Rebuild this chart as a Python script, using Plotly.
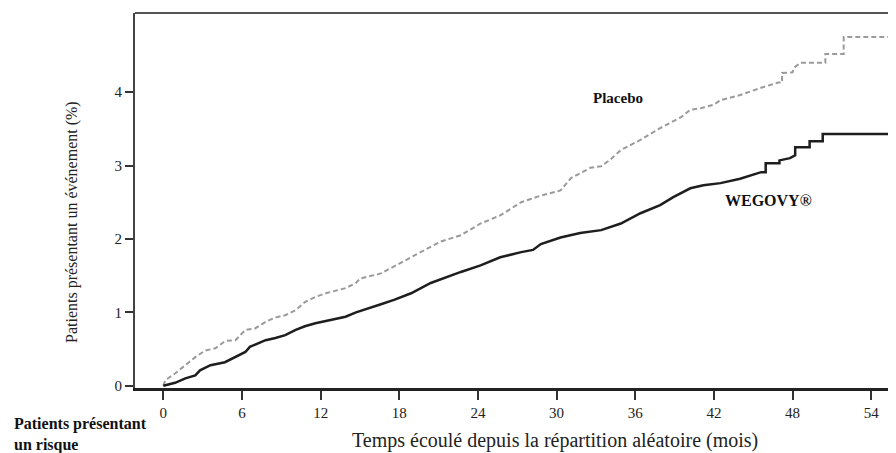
import plotly.graph_objects as go

# Months since randomisation / cumulative % with event
placebo_x = [0, 0.15, 0.92, 1.68, 2.44, 3.2, 3.97, 4.73, 5.5, 6.26, 7.0, 7.8, 8.55, 9.3,
             10.1, 10.8, 11.6, 12.4, 13.1, 13.9, 14.7, 15.0, 16.6, 18.1, 19.6, 21.1, 22.7,
             24.2, 25.7, 27.3, 28.8, 30.3, 31.1, 32.6, 33.4, 34.1, 34.9, 36.4, 37.9, 39.5,
             40.2, 41.0, 42.0, 42.5, 44.0, 45.6, 46.9, 47.2, 47.2, 48.0, 48.1, 48.6, 50.5,
             50.5, 51.9, 51.9, 55.3]
placebo_y = [0, 0.075, 0.17, 0.28, 0.39, 0.48, 0.51, 0.61, 0.62, 0.76, 0.78, 0.87, 0.93, 0.96,
             1.03, 1.14, 1.21, 1.26, 1.29, 1.33, 1.40, 1.46, 1.53, 1.67, 1.81, 1.96, 2.05,
             2.21, 2.32, 2.50, 2.59, 2.66, 2.83, 2.97, 2.99, 3.08, 3.21, 3.35, 3.51, 3.66,
             3.76, 3.78, 3.83, 3.89, 3.96, 4.06, 4.13, 4.13, 4.26, 4.27, 4.33, 4.40, 4.40,
             4.52, 4.52, 4.75, 4.75]

wegovy_x = [0, 0.9, 1.68, 2.44, 2.8, 3.6, 4.7, 5.5, 6.26, 6.6, 7.8, 8.55, 9.3, 10.1, 10.8,
            11.6, 12.4, 13.1, 13.9, 14.7, 15.5, 16.6, 17.6, 18.9, 20.4, 21.9, 22.7, 24.2,
            25.7, 27.3, 28.2, 28.8, 30.3, 31.8, 33.4, 34.9, 36.4, 37.9, 38.9, 40.2, 41.2,
            42.5, 44.0, 45.6, 45.95, 45.95, 47.0, 47.0, 47.8, 48.2, 48.2, 49.3, 49.3, 50.3,
            50.3, 55.3]
wegovy_y = [0, 0.04, 0.10, 0.14, 0.21, 0.28, 0.32, 0.39, 0.46, 0.53, 0.62, 0.65, 0.69, 0.76, 0.81,
            0.85, 0.88, 0.91, 0.94, 1.00, 1.05, 1.11, 1.17, 1.26, 1.40, 1.50, 1.55, 1.64,
            1.75, 1.82, 1.85, 1.93, 2.02, 2.08, 2.12, 2.21, 2.35, 2.46, 2.57, 2.69, 2.73,
            2.76, 2.82, 2.91, 2.91, 3.03, 3.03, 3.07, 3.10, 3.14, 3.25, 3.25, 3.33, 3.33,
            3.43, 3.43]

x_ticks = [0, 6, 12, 18, 24, 30, 36, 42, 48, 54]
y_ticks = [0, 1, 2, 3, 4]

FONT = "Liberation Serif"

# page body has an 8px margin; figure is sized so it ends at the window edge
PW, PH = 761.0, 375.0          # plot area size in px
X0, Y1 = 135.0, 388.0          # plot-area left / bottom in window px


def px(xw):
    return (xw - X0) / PW


def py(yw):
    return (Y1 - yw) / PH


fig = go.Figure()
fig.add_trace(go.Scatter(x=placebo_x, y=placebo_y, mode="lines",
                         line=dict(color="#9a9a9a", width=2, dash="5px,3px"),
                         name="Placebo", showlegend=False))
fig.add_trace(go.Scatter(x=wegovy_x, y=wegovy_y, mode="lines",
                         line=dict(color="#1e1e1e", width=2.5),
                         name="WEGOVY®", showlegend=False))

fig.update_layout(
    width=888, height=445,
    margin=dict(l=127, r=0, t=5, b=65),
    paper_bgcolor="white", plot_bgcolor="white",
    font=dict(family=FONT, color="#222", size=15),
    xaxis=dict(range=[-2.16, 55.89], tickvals=x_ticks, ticktext=[str(v) for v in x_ticks],
               showgrid=False, zeroline=False, showline=True, linewidth=3, linecolor="#222",
               ticks="outside", ticklen=9, tickwidth=2, tickcolor="#333",
               tickfont=dict(family=FONT, size=15, color="#222")),
    yaxis=dict(range=[-0.031, 5.078], tickvals=y_ticks, ticktext=[str(v) for v in y_ticks],
               showgrid=False, zeroline=False, showline=True, linewidth=2, linecolor="#444",
               ticks="outside", ticklen=8, tickwidth=2, tickcolor="#333",
               tickfont=dict(family=FONT, size=15, color="#222")),
    shapes=[dict(type="line", xref="paper", yref="paper", x0=0, x1=1, y0=1, y1=1,
                 line=dict(color="#555", width=2))],
    annotations=[
        dict(text="Patients présentant un événement (%)", textangle=-90,
             xref="paper", yref="paper", x=px(72), y=py(222), showarrow=False,
             xanchor="center", yanchor="middle",
             font=dict(family=FONT, size=16, color="#222")),
        dict(text="Temps écoulé depuis la répartition aléatoire (mois)",
             xref="paper", yref="paper", x=px(555), y=py(440),
             showarrow=False, xanchor="center", yanchor="middle",
             font=dict(family=FONT, size=20, color="#222")),
        dict(text="<b>Patients présentant<br>un risque</b>", align="left",
             xref="paper", yref="paper", x=px(12), y=py(434),
             showarrow=False, xanchor="left", yanchor="middle",
             font=dict(family=FONT, size=16, color="#111")),
        dict(text="<b>Placebo</b>", xref="paper", yref="paper",
             x=px(617.5), y=py(98), showarrow=False,
             xanchor="center", yanchor="middle",
             font=dict(family=FONT, size=15, color="#111")),
        dict(text="<b>WEGOVY®</b>", xref="paper", yref="paper",
             x=px(768), y=py(200), showarrow=False,
             xanchor="center", yanchor="middle",
             font=dict(family=FONT, size=16, color="#111")),
    ],
)

fig.write_html("out.html")
